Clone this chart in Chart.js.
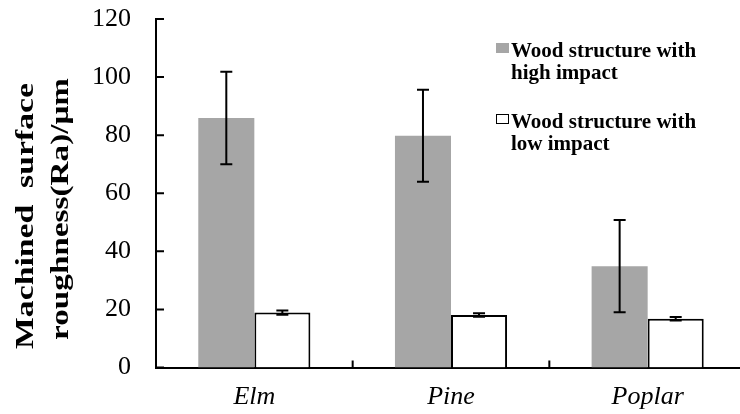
<!DOCTYPE html>
<html>
<head>
    <script src="https://cdn.jsdelivr.net/npm/chart.js@4.4.0/dist/chart.umd.min.js"></script>
    <style>
        body { margin: 0; background: #fff; overflow: hidden; }
        #wrap { position: relative; width: 740px; height: 414px; overflow: hidden; }
        .item { position: absolute; left: 511px; font: bold 21px "Liberation Serif", serif; line-height: 22px; white-space: nowrap; color: #000; }
        .box { position: absolute; left: -15px; top: 4px; width: 13px; height: 10px; box-sizing: border-box; }
    </style>
</head>
<body>
<div id="wrap">
    <canvas id="myChart" width="760" height="414"></canvas>
    <div id="legend"></div>
</div>

<script type="text/javascript">
    // values
    const categories = ['Elm', 'Pine', 'Poplar'];
    const highImpact = [85.9, 79.8, 34.9];
    const highErr = [15.9, 15.8, 15.9];
    const lowImpact = [18.9, 18.1, 16.8];
    const lowErr = [0.7, 0.6, 0.6];
    const yTicks = [0, 20, 40, 60, 80, 100, 120];
    const legendLines = [['Wood structure with', 'high impact'], ['Wood structure with', 'low impact']];
    const yTitle = ['Machined  surface', 'roughness(Ra)/\u03bcm'];

    const serif = '"Liberation Serif", "Times New Roman", serif';

    // error bars, inward tick marks and the rotated y title
    const extras = {
        id: 'extras',
        afterDatasetsDraw(chart) {
            const ctx = chart.ctx;
            const y = chart.scales.y;
            ctx.save();
            ctx.strokeStyle = '#000';
            ctx.lineWidth = 2;
            chart.data.datasets.forEach((ds, di) => {
                const meta = chart.getDatasetMeta(di);
                meta.data.forEach((bar, i) => {
                    const v = ds.data[i], e = ds.errors[i];
                    const top = y.getPixelForValue(v + e);
                    const bot = y.getPixelForValue(v - e);
                    ctx.beginPath();
                    ctx.moveTo(bar.x, top); ctx.lineTo(bar.x, bot);
                    ctx.moveTo(bar.x - 6, top); ctx.lineTo(bar.x + 6, top);
                    ctx.moveTo(bar.x - 6, bot); ctx.lineTo(bar.x + 6, bot);
                    ctx.stroke();
                });
            });
            ctx.restore();
        },
        afterDraw(chart) {
            const ctx = chart.ctx;
            const x = chart.scales.x, y = chart.scales.y;
            const area = chart.chartArea;
            ctx.save();
            ctx.strokeStyle = '#000';
            ctx.lineWidth = 2;
            ctx.beginPath();
            y.ticks.forEach(t => {
                const py = y.getPixelForValue(t.value);
                ctx.moveTo(area.left, py); ctx.lineTo(area.left + 8, py);
            });
            for (let i = 0; i < categories.length - 1; i++) {
                const px = (x.getPixelForValue(i) + x.getPixelForValue(i + 1)) / 2;
                ctx.moveTo(px, area.bottom); ctx.lineTo(px, area.bottom - 7);
            }
            ctx.stroke();

            // y axis title, two lines, stretched along the text like the original
            ctx.fillStyle = '#000';
            ctx.font = 'bold 25px ' + serif;
            ctx.textAlign = 'center';
            ctx.textBaseline = 'alphabetic';
            const spots = [[33, 216], [68, 209]];
            const lengths = [266, 262];
            yTitle.forEach((line, i) => {
                const w = ctx.measureText(line).width;
                ctx.save();
                ctx.translate(spots[i][0], spots[i][1]);
                ctx.rotate(-Math.PI / 2);
                ctx.scale(lengths[i] / w, 1);
                ctx.fillText(line, 0, 0);
                ctx.restore();
            });
            ctx.restore();
        }
    };

    const data = {
        labels: categories,
        datasets: [{
            label: legendLines[0].join(' '),
            data: highImpact,
            errors: highErr,
            backgroundColor: '#a6a6a6',
            borderWidth: 0
        }, {
            label: legendLines[1].join(' '),
            data: lowImpact,
            errors: lowErr,
            backgroundColor: '#ffffff',
            borderColor: '#000000',
            borderWidth: 2
        }]
    };

    const config = {
        type: 'bar',
        data: data,
        options: {
            responsive: false,
            animation: false,
            events: [],
            datasets: {
                bar: { categoryPercentage: 0.57, barPercentage: 1 }
            },
            layout: { padding: { top: 19, right: 14, left: 0, bottom: 0 } },
            plugins: {
                legend: { display: false },
                tooltip: { enabled: false }
            },
            scales: {
                x: {
                    grid: { display: false, drawTicks: false },
                    border: { display: true, color: '#000', width: 2 },
                    ticks: {
                        color: '#000',
                        padding: 14,
                        font: { family: serif, size: 26, style: 'italic' }
                    },
                    afterFit(scale) { scale.height = 46.5; }
                },
                y: {
                    min: 0,
                    max: 120,
                    afterBuildTicks(scale) { scale.ticks = yTicks.map(v => ({ value: v })); },
                    grid: { display: false, drawTicks: false },
                    border: { display: true, color: '#000', width: 2 },
                    ticks: {
                        color: '#000',
                        padding: 25,
                        font: { family: serif, size: 26 }
                    },
                    afterFit(scale) {
                        scale.width = 156;
                        scale.paddingTop = 0;
                        scale.paddingBottom = 0;
                    }
                }
            }
        },
        plugins: [extras]
    };

    const chart = new Chart(document.getElementById('myChart'), config);

    // html legend built from the datasets
    const legend = document.getElementById('legend');
    const tops = [39, 110];
    chart.data.datasets.forEach((ds, i) => {
        const item = document.createElement('div');
        item.className = 'item';
        item.style.top = tops[i] + 'px';
        const box = document.createElement('span');
        box.className = 'box';
        box.style.background = ds.backgroundColor;
        if (ds.borderWidth) box.style.border = '1.5px solid ' + ds.borderColor;
        item.appendChild(box);
        item.appendChild(document.createTextNode(legendLines[i][0]));
        item.appendChild(document.createElement('br'));
        item.appendChild(document.createTextNode(legendLines[i][1]));
        legend.appendChild(item);
    });
</script>
</body>
</html>
